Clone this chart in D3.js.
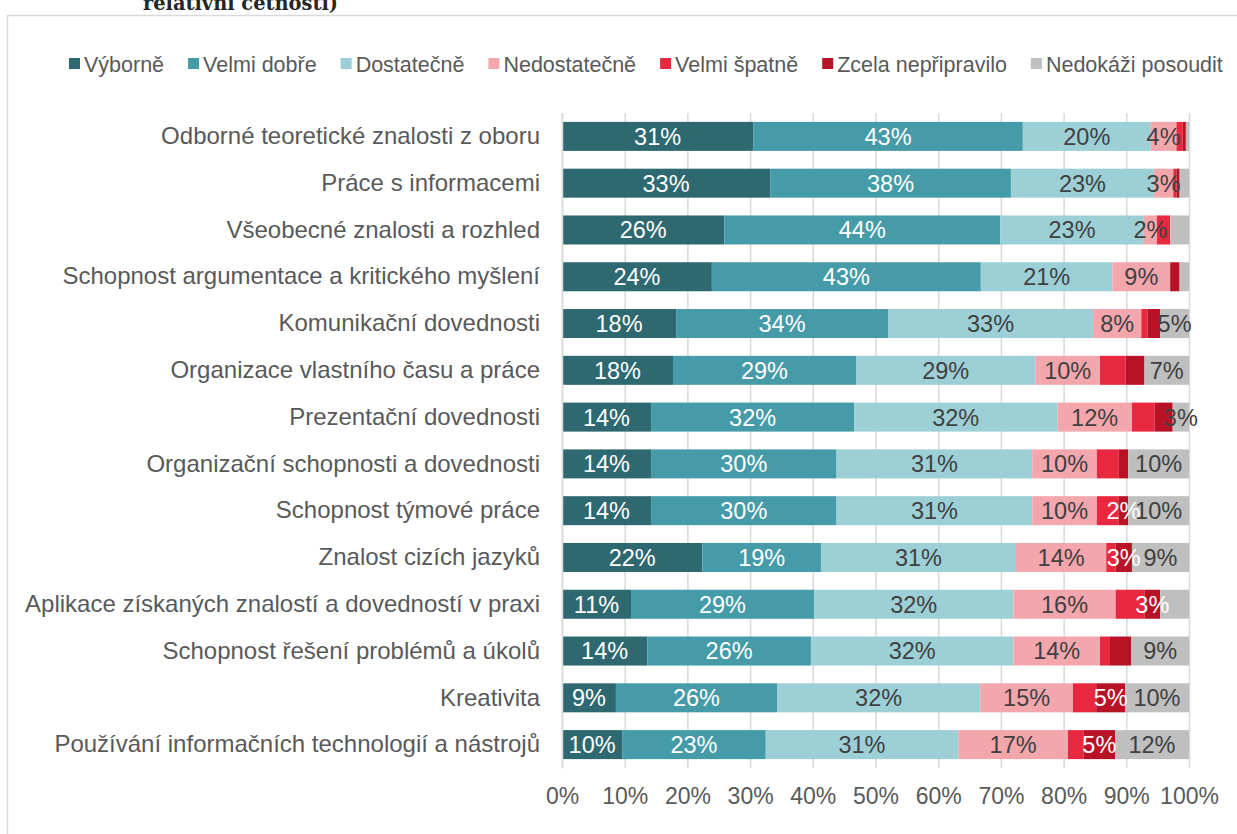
<!DOCTYPE html>
<html>
<head>
<meta charset="utf-8">
<script src="https://cdn.jsdelivr.net/npm/d3@7/dist/d3.min.js"></script>
<style>
  html, body { margin: 0; padding: 0; background: #fff; }
  svg { display: block; }
</style>
</head>
<body>
<svg id="chart" width="1237" height="834"></svg>
<script>
const categories = [
  "Odborné teoretické znalosti z oboru",
  "Práce s informacemi",
  "Všeobecné znalosti a rozhled",
  "Schopnost argumentace a kritického myšlení",
  "Komunikační dovednosti",
  "Organizace vlastního času a práce",
  "Prezentační dovednosti",
  "Organizační schopnosti a dovednosti",
  "Schopnost týmové práce",
  "Znalost cizích jazyků",
  "Aplikace získaných znalostí a dovedností v praxi",
  "Schopnost řešení problémů a úkolů",
  "Kreativita",
  "Používání informačních technologií a nástrojů"
];
const seriesNames = ["Výborně", "Velmi dobře", "Dostatečně", "Nedostatečně", "Velmi špatně", "Zcela nepřipravilo", "Nedokáži posoudit"];
const seriesColors = ["#2E6870", "#469BA8", "#9DCFD6", "#F4A6AD", "#E8283E", "#B81226", "#BFBFBF"];
const labelColors = ["#ffffff", "#ffffff", "#404040", "#404040", "#ffffff", "#ffffff", "#404040"];

const vyborne      = [30.5, 33.2, 25.9, 23.9, 18.2, 17.7, 14.2, 14.2, 14.2, 22.4, 11.0, 13.6, 8.6, 9.6];
const velmiDobre   = [43.0, 38.4, 44.0, 42.9, 33.8, 29.2, 32.4, 29.6, 29.6, 18.9, 29.2, 26.1, 25.7, 22.9];
const dostatecne   = [20.4, 22.8, 22.9, 21.0, 32.7, 28.6, 32.4, 31.2, 31.2, 31.1, 31.8, 32.3, 32.4, 30.7];
const nedostatecne = [4.1, 3.1, 2.1, 9.2, 7.7, 10.3, 11.9, 10.3, 10.3, 14.4, 16.3, 13.8, 14.8, 17.5];
const velmiSpatne  = [1.0, 0.5, 2.1, 0.0, 1.0, 4.1, 3.6, 3.5, 3.5, 1.5, 4.6, 1.6, 3.7, 2.5];
const zcela        = [0.5, 0.5, 0.0, 1.5, 2.0, 3.0, 2.9, 1.5, 1.5, 2.6, 2.5, 3.4, 4.6, 5.0];
const nedokazi     = [0.5, 1.5, 3.0, 1.5, 4.6, 7.1, 2.6, 9.7, 9.7, 9.1, 4.6, 9.2, 10.2, 11.8];

const lblVyborne      = ["31%","33%","26%","24%","18%","18%","14%","14%","14%","22%","11%","14%","9%","10%"];
const lblVelmiDobre   = ["43%","38%","44%","43%","34%","29%","32%","30%","30%","19%","29%","26%","26%","23%"];
const lblDostatecne   = ["20%","23%","23%","21%","33%","29%","32%","31%","31%","31%","32%","32%","32%","31%"];
const lblNedostatecne = ["4%","3%","2%","9%","8%","10%","12%","10%","10%","14%","16%","14%","15%","17%"];
const lblVelmiSpatne  = ["","","","","","","","","","","","","",""];
const lblZcela        = ["","","","","","","","","2%","3%","3%","","5%","5%"];
const lblNedokazi     = ["","","","","5%","7%","3%","10%","10%","9%","","9%","10%","12%"];

const xTicks = [0, 10, 20, 30, 40, 50, 60, 70, 80, 90, 100];
const titleFragment = "relativní četnosti)";

const seriesValues = [vyborne, velmiDobre, dostatecne, nedostatecne, velmiSpatne, zcela, nedokazi];
const seriesLabels = [lblVyborne, lblVelmiDobre, lblDostatecne, lblNedostatecne, lblVelmiSpatne, lblZcela, lblNedokazi];

const FONT = "'Liberation Sans', Arial, sans-serif";
const svg = d3.select("#chart");

// chart border
svg.append("rect")
  .attr("x", 7.5).attr("y", 15.5).attr("width", 1240).attr("height", 830)
  .attr("fill", "#fff").attr("stroke", "#D9D9D9").attr("stroke-width", 1.5);

// title fragment (cut off at top, continues from a line above the picture)
svg.append("text")
  .attr("x", 143).attr("y", 10)
  .attr("font-family", "'DejaVu Serif', 'Liberation Serif', serif")
  .attr("font-weight", "bold").attr("font-size", 20)
  .attr("fill", "#262626")
  .attr("textLength", 195).attr("lengthAdjust", "spacingAndGlyphs")
  .text(titleFragment);

const x = d3.scaleLinear().domain([0, 100]).range([562, 1189]);
const y = d3.scaleBand().domain(categories).range([113, 768]).paddingInner(0.38).paddingOuter(0.19);

// gridlines
const grid = svg.append("g").attr("transform", "translate(0,768)")
  .call(d3.axisBottom(x).tickValues(xTicks).tickSize(-(768 - 113)).tickFormat(""));
grid.select(".domain").remove();
grid.selectAll(".tick line").attr("stroke", "#D9D9D9").attr("stroke-width", 1.5);

// stacked data
const rows = categories.map((c, i) => {
  const o = { cat: c };
  seriesNames.forEach((s, j) => o[s] = seriesValues[j][i]);
  return o;
});
const stack = d3.stack().keys(seriesNames)(rows);

const layers = svg.append("g").selectAll("g").data(stack).join("g")
  .attr("fill", (d, j) => seriesColors[j]);
layers.selectAll("rect").data(d => d).join("rect")
  .attr("x", d => x(d[0]))
  .attr("y", d => y(d.data.cat))
  .attr("width", d => Math.max(0, x(d[1]) - x(d[0])))
  .attr("height", y.bandwidth());

// data labels
const labG = svg.append("g");
stack.forEach((layer, j) => {
  layer.forEach((d, i) => {
    const t = seriesLabels[j][i];
    if (!t) return;
    labG.append("text")
      .attr("x", (x(d[0]) + x(d[1])) / 2)
      .attr("y", y(d.data.cat) + y.bandwidth() / 2)
      .attr("dy", "0.36em")
      .attr("text-anchor", "middle")
      .attr("font-family", FONT).attr("font-size", 23.5)
      .attr("fill", labelColors[j])
      .text(t);
  });
});

// y axis (category labels)
const yAxis = svg.append("g").attr("transform", "translate(562,0)")
  .call(d3.axisLeft(y).tickSize(0).tickPadding(22));
yAxis.select(".domain").attr("stroke", "#D9D9D9").attr("stroke-width", 1.5);
yAxis.selectAll(".tick text").attr("font-family", FONT).attr("font-size", 24).attr("fill", "#595959");

// x axis labels
const xAxis = svg.append("g").attr("transform", "translate(0,768)")
  .call(d3.axisBottom(x).tickValues(xTicks).tickSize(0).tickPadding(20).tickFormat(d => d + "%"));
xAxis.select(".domain").remove();
xAxis.selectAll(".tick text").attr("font-family", FONT).attr("font-size", 23).attr("fill", "#595959");

// legend
const legend = svg.append("g");
let lx = 69;
seriesNames.forEach((s, j) => {
  const g = legend.append("g").attr("transform", `translate(${lx},64)`);
  g.append("rect").attr("x", 0).attr("y", -6).attr("width", 11).attr("height", 11).attr("fill", seriesColors[j]);
  const t = g.append("text").attr("x", 15).attr("dy", "0.35em")
    .attr("font-family", FONT).attr("font-size", 21.5).attr("fill", "#595959").text(s);
  lx += 15 + t.node().getComputedTextLength() + 24;
});
</script>
</body>
</html>
